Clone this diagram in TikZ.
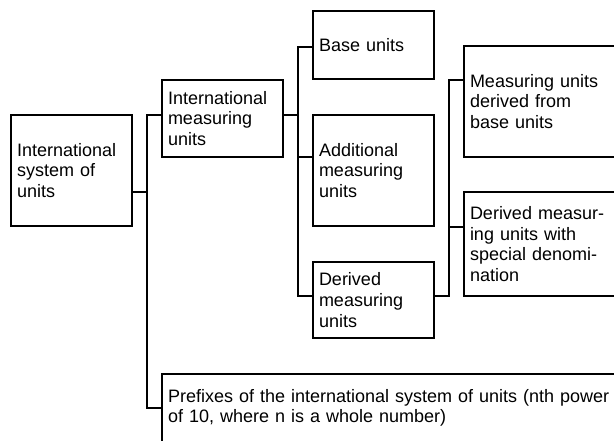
\documentclass[tikz,border=0pt]{standalone}
\usepackage{fontspec}
\setmainfont{Liberation Sans}
\usetikzlibrary{calc}
\tikzset{
  box/.style={draw, line width=2pt, outer sep=0pt, inner xsep=6pt, inner ysep=0pt,
    align=left, anchor=north west, font=\fontsize{18}{20.6}\selectfont},
  conn/.style={line width=2pt}
}
\begin{document}
\begin{tikzpicture}[x=1pt, y=-1pt]
\useasboundingbox (0,0) rectangle (614,441);
\clip (0,0) rectangle (614,441);
% boxes: north-west corner, text width = width - 12, height
\node[box, text width=109pt, minimum height=111pt] (A) at (11,115) {International\\system of\\units};
\node[box, text width=109pt, minimum height=77pt] (B) at (162,80) {International\\measuring\\units};
\node[box, text width=109pt, minimum height=68pt] (Base) at (313,11) {Base units};
\node[box, text width=109pt, minimum height=111pt] (Add) at (313,115) {Additional\\measuring\\units};
\node[box, text width=109pt, minimum height=76pt] (Der) at (313,262) {Derived\\measuring\\units};
\node[box, text width=200pt, minimum height=111pt] (M) at (464,46) {Measuring units\\derived from\\base units};
\node[box, text width=200pt, minimum height=104pt] (S) at (464,192) {Derived measur-\\ing units with\\special denomi-\\nation};
\node[box, text width=520pt, minimum height=68pt] (P) at (162,374) {Prefixes of the international system of units (nth power\\of 10, where n is a whole number)};
% trunk positions
\coordinate (t1) at ($(A.east)!0.5!(B.west)$);
\coordinate (t2) at ($(B.east)!0.5!(Base.west)$);
\coordinate (t3) at ($(Der.east)!0.5!(M.west)$);
% connector end points
\coordinate (a1) at ([yshift=-21.5pt]A.east);
\coordinate (b1) at ([yshift=3.5pt]B.west);
\coordinate (b2) at ([yshift=3.5pt]B.east);
\coordinate (c1) at ([yshift=-2pt]Base.west);
\coordinate (c2) at ([yshift=13.5pt]Add.west);
\coordinate (c3) at ([yshift=4pt]Der.west);
\coordinate (c4) at ([yshift=4pt]Der.east);
\coordinate (d1) at ([yshift=21.5pt]M.west);
\coordinate (d2) at ([yshift=17pt]S.west);
% connectors
\draw[conn] (a1) -- (a1 -| t1);
\draw[conn] (b1) -| (t1 |- P.west) -- (P.west);
\draw[conn] (b2) -- (b2 -| t2);
\draw[conn] (c1) -| (t2 |- c3) -- (c3);
\draw[conn] (c2) -- (c2 -| t2);
\draw[conn] (c4) -| (t3 |- d1) -- (d1);
\draw[conn] (d2) -- (d2 -| t3);
\end{tikzpicture}
\end{document}
